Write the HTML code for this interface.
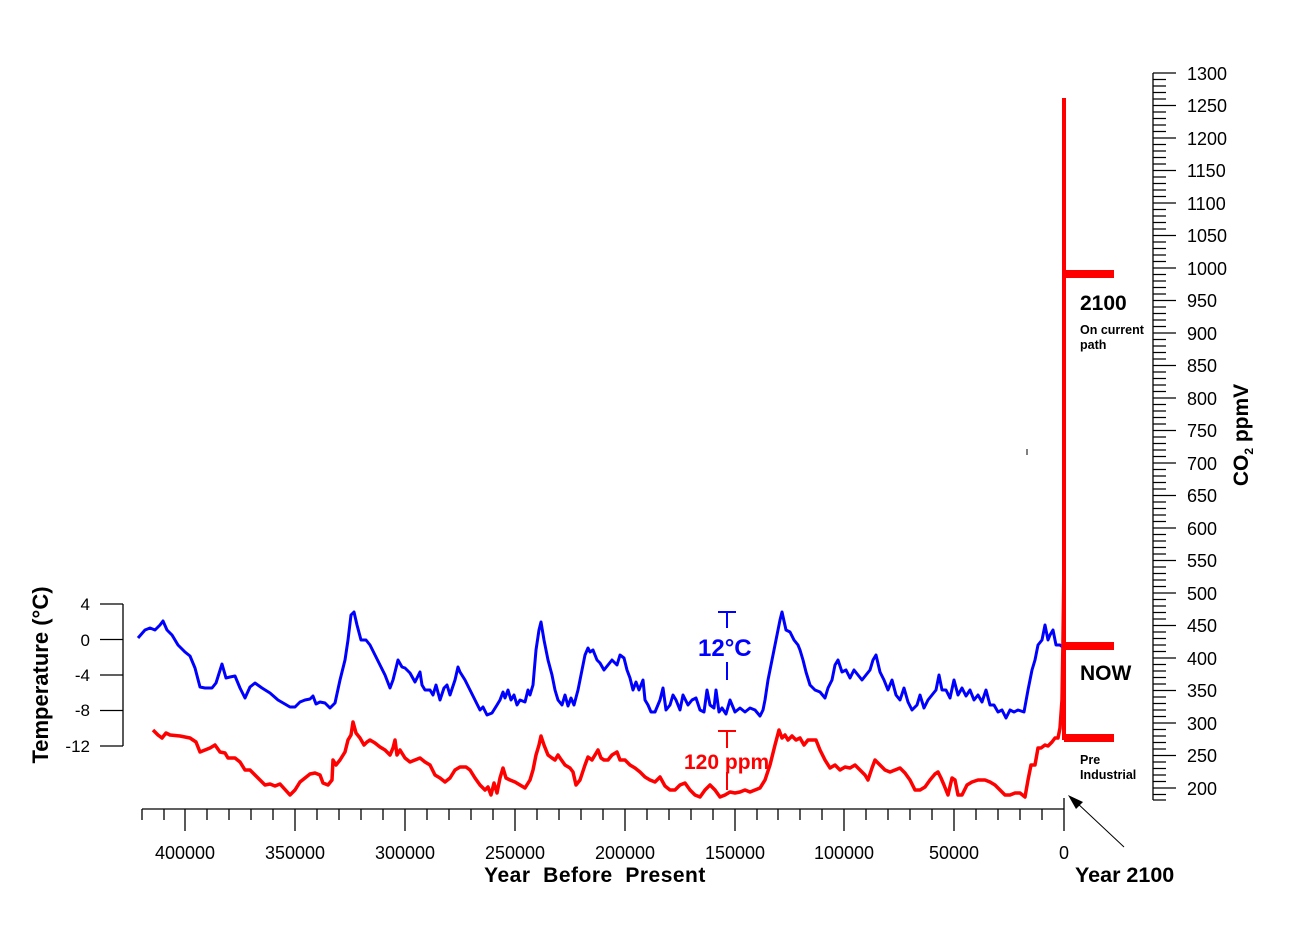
<!DOCTYPE html>
<html><head><meta charset="utf-8"><style>
html,body{margin:0;padding:0;background:#fff;}
svg{display:block;font-family:"Liberation Sans",Arial,sans-serif;}
</style></head><body>
<svg width="1289" height="937" viewBox="0 0 1289 937" xmlns="http://www.w3.org/2000/svg">
<rect width="1289" height="937" fill="#fff"/>
<g stroke="#000" stroke-width="1.3">
<line x1="123" y1="604" x2="123" y2="746"/>
<line x1="100" y1="604" x2="123" y2="604"/>
<line x1="100" y1="639.5" x2="123" y2="639.5"/>
<line x1="100" y1="675" x2="123" y2="675"/>
<line x1="100" y1="710.5" x2="123" y2="710.5"/>
<line x1="100" y1="746" x2="123" y2="746"/>
</g>
<g font-size="17" text-anchor="end" fill="#000">
<text x="90" y="610">4</text><text x="90" y="646">0</text><text x="90" y="681">-4</text><text x="90" y="716">-8</text><text x="90" y="752">-12</text>
</g>
<text transform="translate(48,675) rotate(-90)" font-size="22" font-weight="bold" text-anchor="middle">Temperature (°C)</text>
<line x1="142" y1="809" x2="1064" y2="809" stroke="#000" stroke-width="1.3"/>
<g stroke="#000" stroke-width="1.3">
<path d="M142 809v11M164 809v11M185 809v22M207 809v11M229 809v11M251 809v11M273 809v11M295 809v22M317 809v11M339 809v11M361 809v11M383 809v11M405 809v22M427 809v11M449 809v11M471 809v11M493 809v11M515 809v22M537 809v11M559 809v11M581 809v11M603 809v11M625 809v22M647 809v11M669 809v11M691 809v11M713 809v11M735 809v22M757 809v11M778 809v11M800 809v11M822 809v11M844 809v22M866 809v11M888 809v11M910 809v11M932 809v11M954 809v22M976 809v11M998 809v11M1020 809v11M1042 809v11M1064 798v33"/>
</g>
<g font-size="18" text-anchor="middle">
<text x="185" y="859">400000</text><text x="295" y="859">350000</text><text x="405" y="859">300000</text><text x="515" y="859">250000</text><text x="625" y="859">200000</text><text x="735" y="859">150000</text><text x="844" y="859">100000</text><text x="954" y="859">50000</text><text x="1064" y="859">0</text>
</g>
<text x="595" y="882" font-size="21" font-weight="bold" text-anchor="middle" letter-spacing="0.5" xml:space="preserve">Year  Before  Present</text>
<text x="1075" y="882" font-size="21.5" font-weight="bold">Year 2100</text>
<line x1="1124" y1="847" x2="1076" y2="802" stroke="#000" stroke-width="1"/>
<polygon points="1068,795 1083,802 1076,809" fill="#000"/>
<line x1="1153" y1="73" x2="1153" y2="800" stroke="#000" stroke-width="1.3"/>
<path stroke="#000" stroke-width="1.2" d="
M1153 73h23M1153 79.5h13M1153 86h13M1153 92.5h13M1153 99h13M1153 105.5h23M1153 112h13M1153 118.5h13M1153 125h13M1153 131.5h13M1153 138h23M1153 144.5h13M1153 151h13M1153 157.5h13M1153 164h13M1153 170.5h23M1153 177h13M1153 183.5h13M1153 190h13M1153 196.5h13M1153 203h23M1153 209.5h13M1153 216h13M1153 222.5h13M1153 229h13M1153 235.5h23M1153 242h13M1153 248.5h13M1153 255h13M1153 261.5h13M1153 268h23M1153 274.5h13M1153 281h13M1153 287.5h13M1153 294h13M1153 300.5h23M1153 307h13M1153 313.5h13M1153 320h13M1153 326.5h13M1153 333h23M1153 339.5h13M1153 346h13M1153 352.5h13M1153 359h13M1153 365.5h23M1153 372h13M1153 378.5h13M1153 385h13M1153 391.5h13M1153 398h23M1153 404.5h13M1153 411h13M1153 417.5h13M1153 424h13M1153 430.5h23M1153 437h13M1153 443.5h13M1153 450h13M1153 456.5h13M1153 463h23M1153 469.5h13M1153 476h13M1153 482.5h13M1153 489h13M1153 495.5h23M1153 502h13M1153 508.5h13M1153 515h13M1153 521.5h13M1153 528h23M1153 534.5h13M1153 541h13M1153 547.5h13M1153 554h13M1153 560.5h23M1153 567h13M1153 573.5h13M1153 580h13M1153 586.5h13M1153 593h23M1153 599.5h13M1153 606h13M1153 612.5h13M1153 619h13M1153 625.5h23M1153 632h13M1153 638.5h13M1153 645h13M1153 651.5h13M1153 658h23M1153 664.5h13M1153 671h13M1153 677.5h13M1153 684h13M1153 690.5h23M1153 697h13M1153 703.5h13M1153 710h13M1153 716.5h13M1153 723h23M1153 729.5h13M1153 736h13M1153 742.5h13M1153 749h13M1153 755.5h23M1153 762h13M1153 768.5h13M1153 775h13M1153 781.5h13M1153 788h23M1153 794.5h13M1153 800h13"/>
<g font-size="18">
<text x="1187" y="80">1300</text><text x="1187" y="112">1250</text><text x="1187" y="145">1200</text><text x="1187" y="177">1150</text><text x="1187" y="210">1100</text><text x="1187" y="242">1050</text><text x="1187" y="275">1000</text><text x="1187" y="307">950</text><text x="1187" y="340">900</text><text x="1187" y="372">850</text><text x="1187" y="405">800</text><text x="1187" y="437">750</text><text x="1187" y="470">700</text><text x="1187" y="502">650</text><text x="1187" y="535">600</text><text x="1187" y="567">550</text><text x="1187" y="600">500</text><text x="1187" y="632">450</text><text x="1187" y="665">400</text><text x="1187" y="697">350</text><text x="1187" y="730">300</text><text x="1187" y="762">250</text><text x="1187" y="795">200</text>
</g>
<text transform="translate(1248,435) rotate(-90)" font-size="21" font-weight="bold" text-anchor="middle">CO<tspan font-size="12" dy="5">2</tspan><tspan dy="-5"> ppmV</tspan></text>
<line x1="1027" y1="449" x2="1027" y2="455" stroke="#000" stroke-width="1"/>
<polyline fill="none" stroke="#0000ff" stroke-width="3" stroke-linejoin="round" points="138,638 145,630 150,628 155,630 160,625 163,621 167,630 172,635 178,645 185,652 190,656 195,668 200,687 205,688 212,688 216,683 222,664 226,678 230,677 235,676 240,688 245,698 250,687 255,683 262,688 270,693 278,700 290,707 295,707 300,702 305,700 310,699 313,696 316,704 320,702 325,703 330,708 335,703 340,680 345,660 348,640 351,615 354,612 357,625 361,640 366,640 370,645 375,655 380,665 385,675 390,688 393,680 398,660 402,667 405,668 410,673 415,682 420,672 422,685 425,690 430,690 433,695 436,685 440,700 444,688 447,685 450,695 455,680 458,667 460,672 465,680 470,690 475,700 480,710 483,707 487,715 492,713 497,705 500,700 503,692 505,698 508,690 511,700 514,695 517,705 520,700 525,702 528,690 530,695 533,685 536,650 539,630 541,622 544,640 548,660 552,675 555,690 558,700 562,705 565,695 568,706 571,698 574,705 578,690 581,675 585,655 588,648 590,652 593,650 597,660 600,663 604,670 608,665 612,660 617,665 620,655 624,658 627,670 630,678 633,690 636,682 639,690 643,680 645,700 648,705 651,712 655,712 660,700 663,688 666,710 670,705 673,695 676,700 680,710 683,695 688,705 692,700 696,698 700,710 704,712 707,690 710,705 714,708 716,690 719,712 722,708 726,714 730,700 735,712 740,708 745,712 750,708 755,710 760,716 763,710 765,700 768,680 772,660 776,640 780,620 782,612 786,630 790,632 794,640 798,645 800,650 803,660 806,672 810,685 815,690 820,692 825,698 828,688 832,680 835,665 838,660 842,672 846,670 850,678 854,670 858,675 862,680 866,675 870,670 873,660 876,655 880,672 884,680 888,690 892,680 896,695 900,700 904,688 908,702 912,710 917,705 920,695 924,708 928,700 932,695 936,690 939,675 942,690 946,690 950,698 954,680 958,695 962,688 966,696 970,690 974,700 978,695 982,702 986,690 990,705 994,705 998,712 1002,710 1006,718 1010,710 1014,712 1018,710 1024,712 1028,690 1032,670 1035,660 1038,645 1042,640 1045,625 1048,640 1050,635 1053,630 1056,645 1060,645 1064,648"/>
<polyline fill="none" stroke="#ff0000" stroke-width="3.5" stroke-linejoin="round" points="153,730 158,735 162,738 166,733 170,735 180,736 190,738 196,742 200,752 205,750 210,748 215,745 220,752 225,753 228,758 235,758 240,762 245,770 250,770 258,778 265,785 270,784 275,786 280,784 290,795 295,790 300,782 305,778 310,774 315,773 320,775 323,783 328,785 332,780 333,760 336,765 340,760 345,752 348,740 351,735 353,722 356,733 360,738 364,745 367,742 370,740 375,743 380,747 385,750 390,755 393,748 395,740 397,755 400,750 405,758 410,762 415,760 420,758 425,762 430,765 435,775 440,778 445,782 450,778 455,770 460,767 466,767 470,770 475,778 480,785 485,790 488,787 491,795 494,783 497,793 500,778 503,768 506,778 510,780 515,782 520,785 525,788 530,780 533,770 536,755 539,745 541,736 544,745 548,755 552,758 555,760 558,755 560,758 565,765 570,768 573,772 576,785 580,780 585,765 588,757 592,760 595,755 598,750 601,758 604,760 608,760 612,755 617,752 620,760 625,760 630,765 635,768 640,772 645,777 650,780 655,782 660,777 665,786 670,790 675,790 680,785 685,783 690,790 695,795 700,797 705,790 710,785 715,790 720,797 725,795 730,792 735,793 740,792 745,790 750,792 755,790 760,788 765,780 770,765 775,745 779,730 782,738 785,735 788,740 792,736 796,740 800,738 804,745 808,740 812,740 816,740 820,750 825,760 830,768 835,765 840,770 845,767 850,768 855,765 860,770 865,775 868,780 872,768 875,760 880,765 885,770 890,772 895,770 900,768 905,773 910,780 915,790 920,790 925,787 930,780 935,774 938,772 941,778 944,785 948,795 952,778 955,780 958,795 962,795 967,785 972,782 978,780 985,780 990,782 995,785 1000,790 1005,795 1010,795 1015,793 1020,793 1025,797 1028,780 1031,765 1035,765 1038,748 1041,748 1045,745 1048,746 1052,742 1055,738 1058,738 1060,728 1062,700 1063,640 1064,560"/>
<line x1="1064" y1="98" x2="1064" y2="740" stroke="#ff0000" stroke-width="4"/>
<rect x="1064" y="270" width="50" height="8" fill="#ff0000"/>
<rect x="1064" y="642" width="50" height="8" fill="#ff0000"/>
<rect x="1064" y="734" width="50" height="8" fill="#ff0000"/>
<g font-weight="bold" fill="#000">
<text x="1080" y="310" font-size="21">2100</text>
<text x="1080" y="334" font-size="12.5">On current</text>
<text x="1080" y="349" font-size="12.5">path</text>
<text x="1080" y="680" font-size="21">NOW</text>
<text x="1080" y="764" font-size="12.5">Pre</text>
<text x="1080" y="779" font-size="12.5">Industrial</text>
</g>
<g stroke="#0000ff" stroke-width="2">
<line x1="718" y1="612" x2="736" y2="612"/><line x1="727" y1="612" x2="727" y2="628"/><line x1="727" y1="662" x2="727" y2="680"/>
</g>
<text x="698" y="656" font-size="24" font-weight="bold" fill="#0000ff">12°C</text>
<g stroke="#ff0000" stroke-width="2">
<line x1="718" y1="731" x2="736" y2="731"/><line x1="727" y1="731" x2="727" y2="748"/><line x1="727" y1="772" x2="727" y2="790"/>
</g>
<text x="684" y="769" font-size="21" font-weight="bold" fill="#ff0000">120 ppm</text>
</svg>
</body></html>
